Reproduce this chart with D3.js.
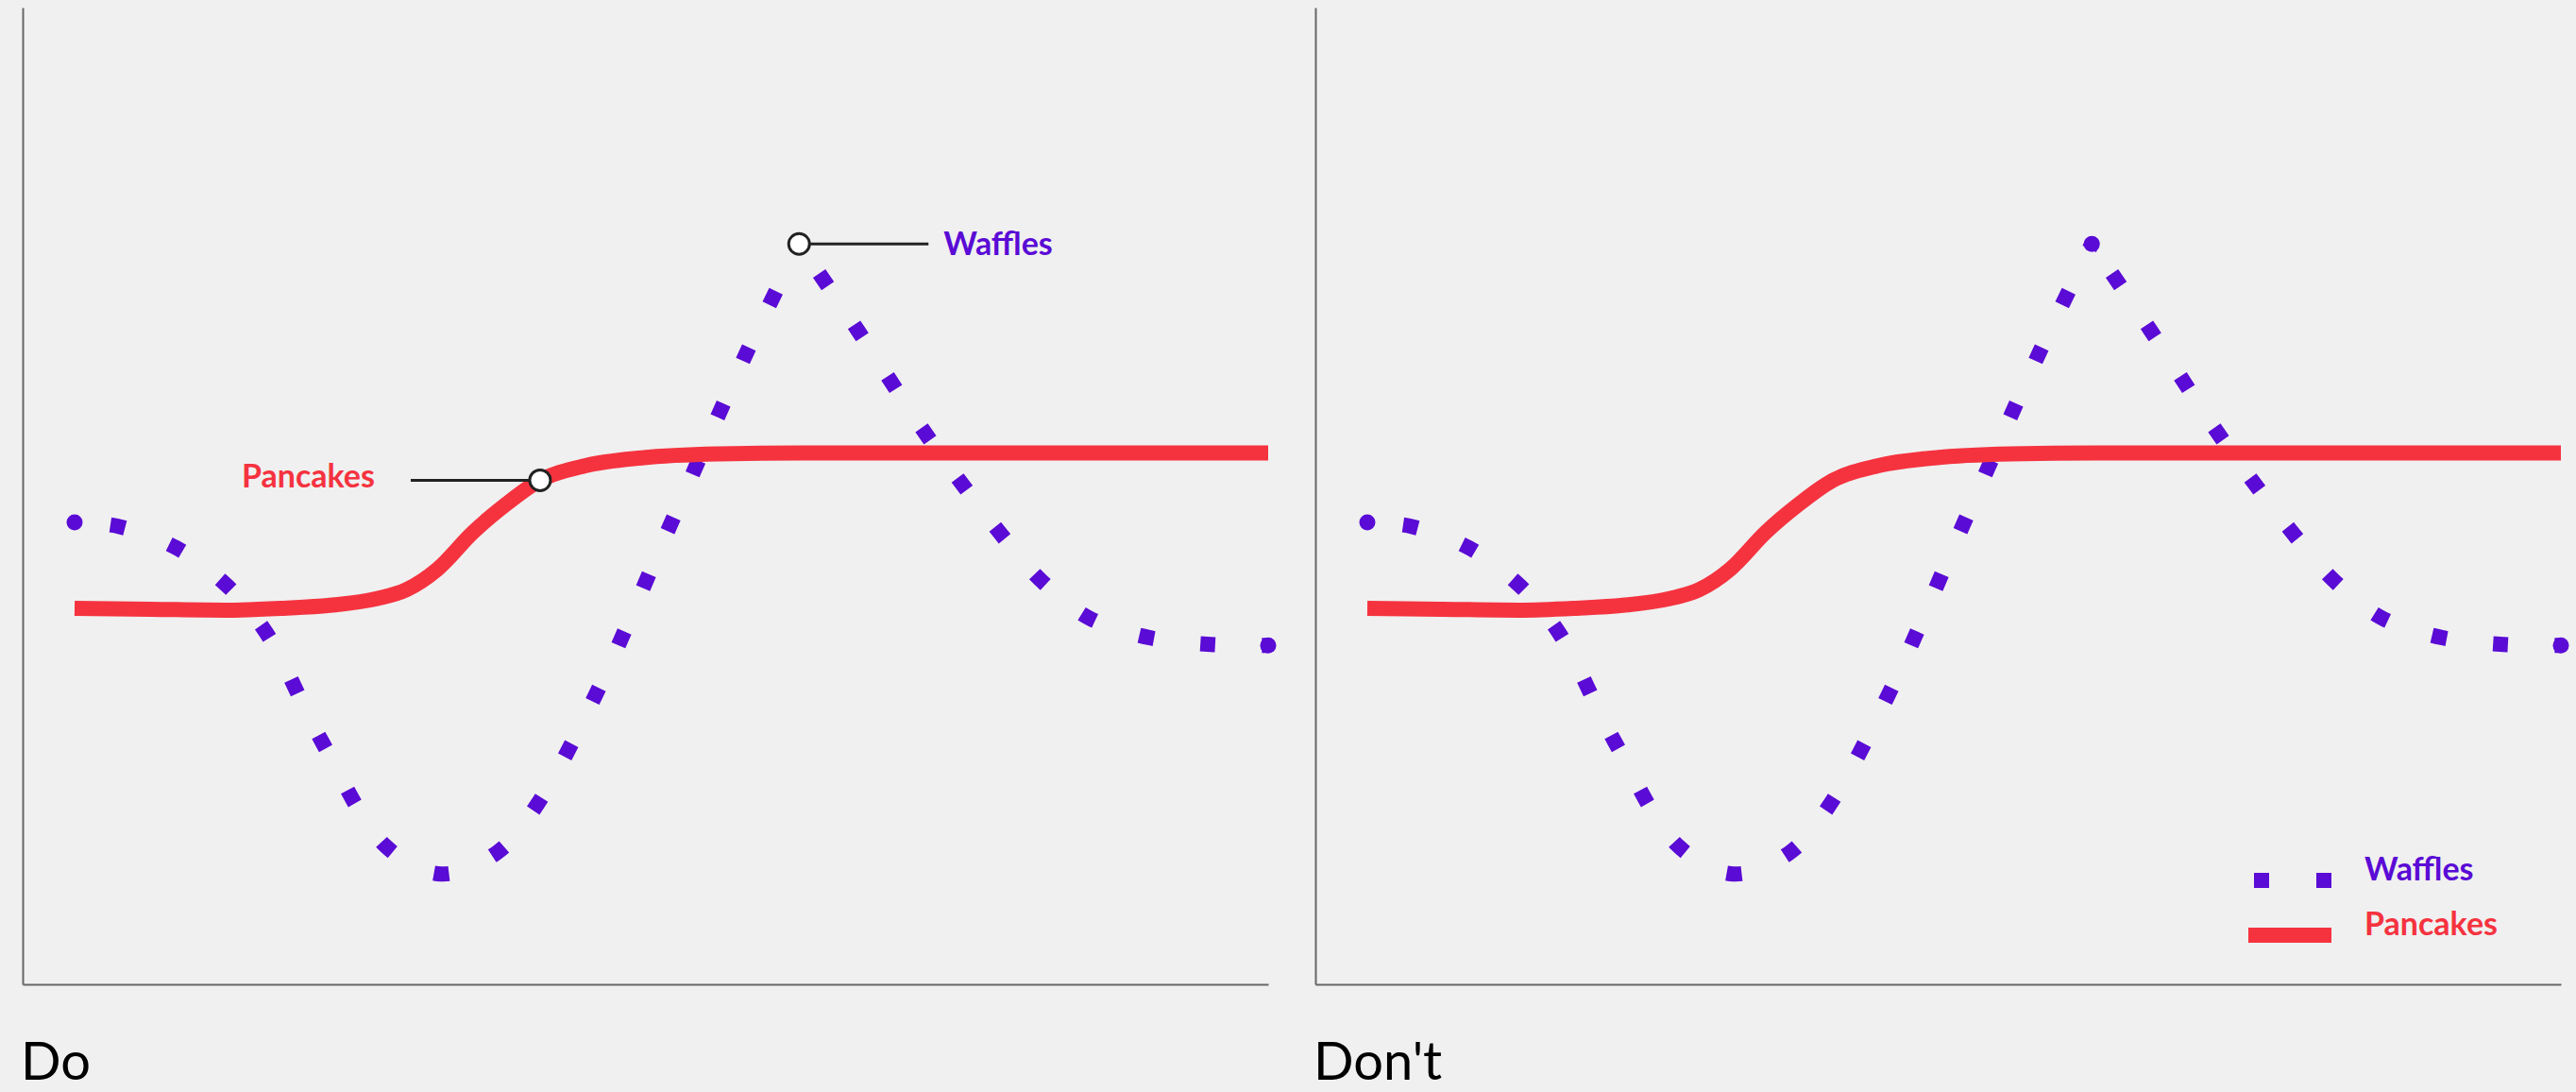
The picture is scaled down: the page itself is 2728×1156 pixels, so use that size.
<!DOCTYPE html>
<html>
<head>
<meta charset="utf-8">
<script src="https://cdn.jsdelivr.net/npm/d3@7"></script>
<style>
  html, body { margin: 0; padding: 0; background: #f0f0f0; }
  svg { display: block; }
  text { font-family: Lato, "Open Sans", sans-serif; }
</style>
</head>
<body>
<svg id="chart" width="2728" height="1156"></svg>
<script>
// Series values (x and y on a 0-100 scale)
var waffleX = [0, 3.6, 8.5, 12.7, 16.0, 20.7, 26.1, 30.7, 35.4, 38.7, 43.6, 49.9, 56.2, 60.7,
               65.7, 71.4, 77.6, 81.1, 85.0, 90.0, 95.2, 100];
var waffleY = [47.3, 46.9, 44.7, 40.9, 36.1, 24.9, 14.1, 11.3, 13.5, 18.3, 29.5, 47.0, 64.4, 75.8,
               66.8, 56.2, 46.1, 41.2, 37.5, 35.5, 34.8, 34.7];

var pancakeX = [0, 6.4, 12.7, 17.5, 21.4, 25.4, 27.8, 30.4, 33.4, 36.1, 39.0, 42.8, 47.5, 53.9, 61, 100];
var pancakeY = [38.5, 38.4, 38.3, 38.5, 38.8, 39.5, 40.4, 42.5, 46.3, 49.1, 51.6, 53.1, 53.9, 54.3, 54.4, 54.4];

var seriesNames = ["Waffles", "Pancakes"];
var panelTitles = ["Do", "Don't"];

var purple = "#5a0bd5",
    red = "#f5333f";

var svg = d3.select("#chart");

var waffles = waffleX.map(function (d, i) { return { x: d, y: waffleY[i] }; });
var pancakes = pancakeX.map(function (d, i) { return { x: d, y: pancakeY[i] }; });

// split waffles at the peak, the dotted pattern restarts there
var peakIndex = d3.maxIndex(waffles, function (d) { return d.y; });
var waffleSegments = [waffles.slice(0, peakIndex + 1), waffles.slice(peakIndex)];

var panelLefts = [24, 1393];
var axisTop = 8,
    axisBottom = 1042,
    axisWidth = 1319,
    dataInset = 55;

// square dots: first one 46px in, last one ~64px before the segment end
var dotSize = 16, firstGap = 46, lastGap = 64, period = 65;

panelLefts.forEach(function (left, p) {
    var g = svg.append("g");

    var x = d3.scaleLinear()
        .domain([0, 100])
        .range([left + dataInset, left + axisWidth]);
    var y = d3.scaleLinear()
        .domain([0, 100])
        .range([axisBottom, axisTop]);

    // axes: plain lines, no ticks
    var xAxisScale = d3.scaleLinear().range([left, left + axisWidth]);
    var yAxisScale = d3.scaleLinear().range([axisBottom, axisTop]);

    g.append("g")
        .attr("transform", "translate(0," + axisBottom + ")")
        .call(d3.axisBottom(xAxisScale).tickValues([]).tickSizeOuter(0))
        .select(".domain").attr("stroke", "#666").attr("stroke-width", 2);
    g.append("g")
        .attr("transform", "translate(" + left + ",0)")
        .call(d3.axisLeft(yAxisScale).tickValues([]).tickSizeOuter(0))
        .select(".domain").attr("stroke", "#666").attr("stroke-width", 2);

    var waffleLine = d3.line()
        .x(function (d) { return x(d.x); })
        .y(function (d) { return y(d.y); })
        .curve(d3.curveCatmullRom.alpha(0.5));

    var pancakeLine = d3.line()
        .x(function (d) { return x(d.x); })
        .y(function (d) { return y(d.y); })
        .curve(d3.curveMonotoneX);

    // Waffles, square dots
    g.selectAll(".waffle")
        .data(waffleSegments)
        .enter().append("path")
        .attr("class", "waffle")
        .attr("d", waffleLine)
        .attr("fill", "none")
        .attr("stroke", purple)
        .attr("stroke-width", dotSize)
        .each(function () {
            var len = this.getTotalLength();
            var span = len - firstGap - lastGap;
            var n = Math.max(1, Math.round(span / period));
            var step = span / n;
            d3.select(this)
                .attr("stroke-dasharray", dotSize + " " + (step - dotSize))
                .attr("stroke-dashoffset", step - (firstGap - dotSize / 2));
        });

    // round dots where each segment starts and at the end
    var roundDots = [waffles[0], waffles[peakIndex], waffles[waffles.length - 1]];
    g.selectAll(".waffle-dot")
        .data(roundDots)
        .enter().append("circle")
        .attr("class", "waffle-dot")
        .attr("cx", function (d) { return x(d.x); })
        .attr("cy", function (d) { return y(d.y); })
        .attr("r", 8.5)
        .attr("fill", purple);

    // Pancakes, solid
    g.append("path")
        .datum(pancakes)
        .attr("d", pancakeLine)
        .attr("fill", "none")
        .attr("stroke", red)
        .attr("stroke-width", 16);

    // panel title
    g.append("text")
        .attr("x", left - 2)
        .attr("y", 1143)
        .attr("font-size", 56)
        .attr("fill", "#000")
        .text(panelTitles[p]);

    if (p === 0) {
        // direct labels
        var labels = [
            { point: waffles[peakIndex], name: seriesNames[0], color: purple, dir: 1, dy: 12 },
            { point: pancakes[10], name: seriesNames[1], color: red, dir: -1, dy: 8 }
        ];
        labels.forEach(function (l) {
            var cx = x(l.point.x), cy = y(l.point.y);
            g.append("line")
                .attr("x1", cx + l.dir * 11)
                .attr("x2", cx + l.dir * 137)
                .attr("y1", cy)
                .attr("y2", cy)
                .attr("stroke", "#222")
                .attr("stroke-width", 3);
            g.append("circle")
                .attr("cx", cx)
                .attr("cy", cy)
                .attr("r", 11)
                .attr("fill", "#fff")
                .attr("stroke", "#222")
                .attr("stroke-width", 3);
            g.append("text")
                .attr("x", cx + l.dir * (l.dir > 0 ? 153 : 175))
                .attr("y", cy + l.dy)
                .attr("text-anchor", l.dir > 0 ? "start" : "end")
                .attr("font-size", 34)
                .attr("font-weight", "bold")
                .attr("fill", l.color)
                .text(l.name);
        });
    } else {
        // legend
        var legend = g.append("g")
            .attr("transform", "translate(" + (left + 994) + ",0)");
        var items = [
            { name: seriesNames[0], color: purple, y: 932, dash: "16 50", from: 0 },
            { name: seriesNames[1], color: red, y: 990, dash: null, from: -6 }
        ];
        items.forEach(function (it) {
            legend.append("line")
                .attr("x1", it.from)
                .attr("x2", 82)
                .attr("y1", it.y)
                .attr("y2", it.y)
                .attr("stroke", it.color)
                .attr("stroke-width", 16)
                .attr("stroke-dasharray", it.dash);
            legend.append("text")
                .attr("x", 117)
                .attr("y", it.y)
                .attr("font-size", 34)
                .attr("font-weight", "bold")
                .attr("fill", it.color)
                .text(it.name);
        });
    }
});
</script>
</body>
</html>
